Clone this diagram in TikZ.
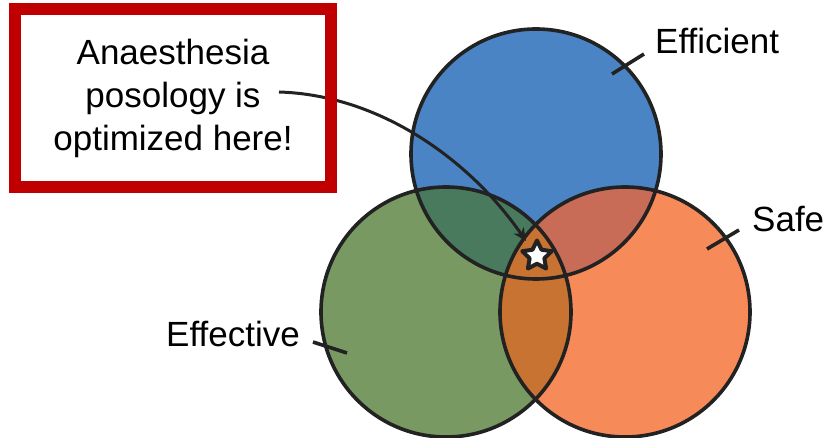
\documentclass[tikz,border=0pt]{standalone}
\usepackage{fontspec}
\setmainfont{Liberation Sans}
\usetikzlibrary{shapes,arrows.meta}

\definecolor{cblue}{HTML}{4A84C4}
\definecolor{cgreen}{HTML}{789A62}
\definecolor{corange}{HTML}{F68A58}
\definecolor{cbg}{HTML}{4A7A5E}
\definecolor{cbo}{HTML}{C86C58}
\definecolor{cgo}{HTML}{C97333}
\definecolor{cred}{HTML}{C00000}
\definecolor{cline}{HTML}{222222}

\begin{document}
\begin{tikzpicture}[x=1pt, y=-1pt]
\tikzstyle{labelr}=[anchor=base west, inner sep=0pt, font=\fontsize{35}{43}\selectfont]
\tikzstyle{ringstyle}=[draw=cline, line width=3.6pt]
\tikzstyle{tickstyle}=[draw=cline, line width=3.6pt]
\tikzstyle{drawstyle}=[draw=cline, line width=3pt, -{Stealth[length=13pt, width=12pt]}]

\useasboundingbox (0,0) rectangle (828,438);

% circle centres
\coordinate (Cb) at (536,154);
\coordinate (Cg) at (446,312);
\coordinate (Co) at (625,312);

\fill[cblue] (Cb) circle[radius=125pt];
\fill[cgreen] (Cg) circle[radius=125pt];
\fill[corange] (Co) circle[radius=125pt];
\begin{scope}
\clip (Cb) circle[radius=125pt];
\fill[cbg] (Cg) circle[radius=125pt];
\fill[cbo] (Co) circle[radius=125pt];
\end{scope}
\begin{scope}
\clip (Cg) circle[radius=125pt];
\fill[cgo] (Co) circle[radius=125pt];
\end{scope}
\draw[ringstyle] (Cb) circle[radius=125pt];
\draw[ringstyle] (Cg) circle[radius=125pt];
\draw[ringstyle] (Co) circle[radius=125pt];

\node[star, star points=5, star point ratio=2.0, minimum size=31pt, inner sep=0pt,
  fill=white, draw=cline, line width=4pt, line join=round] (G0) at (537,256) {};

% labels and ticks
\node[labelr] (G1) at (655,54) {Efficient};
\coordinate (G1a) at (612,74);
\coordinate (G1b) at (644,54);
\draw[tickstyle] (G1a) -- (G1b);
\node[labelr] (G2) at (752,232) {Safe};
\coordinate (G2a) at (707,249);
\coordinate (G2b) at (739,230);
\draw[tickstyle] (G2a) -- (G2b);
\node[labelr] (G3) at (166,347) {Effective};
\coordinate (G3a) at (313,342);
\coordinate (G3b) at (347,353);
\draw[tickstyle] (G3a) -- (G3b);

% pointer and box
\coordinate (G4a) at (279,92);
\coordinate (G4b) at (526,241);
\draw[drawstyle] (G4a) .. controls (380,95) and (470,160) .. (G4b);
\node[draw=cred, line width=12pt, minimum width=316pt, minimum height=178pt,
  align=center, font=\fontsize{35}{43}\selectfont] (G4) at (173,98)
  {Anaesthesia\\posology is\\optimized here!};
\end{tikzpicture}
\end{document}
